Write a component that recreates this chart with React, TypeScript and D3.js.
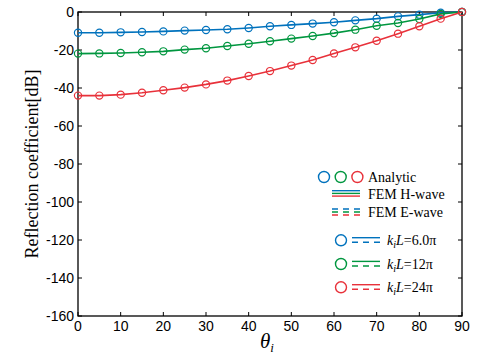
import * as d3 from "d3";
import { useRef, useEffect } from "react";

const angles = [0, 5, 10, 15, 20, 25, 30, 35, 40, 45, 50, 55, 60, 65, 70, 75, 80, 85, 90];
const blueValues = [-10.9, -10.9, -10.7, -10.5, -10.2, -9.8, -9.5, -9.1, -8.4, -7.5, -6.8, -6.1, -5.4, -4.4, -3.5, -2.3, -1.4, -0.4, 0];
const greenValues = [-21.9, -21.8, -21.6, -21.2, -20.7, -19.8, -19.1, -17.9, -16.7, -15.4, -14.0, -12.6, -11.1, -9.3, -7.2, -5.8, -3.7, -1.0, 0];
const redValues = [-44.0, -44.0, -43.5, -42.5, -41.2, -39.8, -38.1, -36.1, -33.7, -31.1, -28.2, -25.3, -21.8, -18.6, -15.1, -11.4, -7.5, -3.5, 0];
const xTicks = [0, 10, 20, 30, 40, 50, 60, 70, 80, 90];
const yTicks = [0, -20, -40, -60, -80, -100, -120, -140, -160];
const seriesColors = ["#0072BD", "#00963F", "#E8313A"];
const seriesLabels = ["6.0π", "12π", "24π"];

export default function App() {
  const svgRef = useRef<SVGSVGElement>(null);
  const width = 477, height = 356;
  const marginLeft = 78, marginRight = 15, marginTop = 12, marginBottom = 40;

  useEffect(() => {
    const svg = d3.select(svgRef.current);
    svg.selectAll("*").remove();

    const x = d3.scaleLinear().domain([0, 90]).range([marginLeft, width - marginRight]);
    const y = d3.scaleLinear().domain([-160, 0]).range([height - marginBottom, marginTop]);
    const sans = "Arial, 'Liberation Sans', Helvetica, sans-serif";
    const serif = "'Times New Roman', 'Liberation Serif', serif";

    // tick marks inside on all four sides
    const ticks = svg.append("g").attr("stroke", "#000").attr("stroke-width", 1);
    xTicks.forEach((t) => {
      ticks.append("line").attr("x1", x(t)).attr("x2", x(t)).attr("y1", y(-160)).attr("y2", y(-160) - 4);
      ticks.append("line").attr("x1", x(t)).attr("x2", x(t)).attr("y1", y(0)).attr("y2", y(0) + 4);
    });
    yTicks.forEach((t) => {
      ticks.append("line").attr("x1", x(0)).attr("x2", x(0) + 4).attr("y1", y(t)).attr("y2", y(t));
      ticks.append("line").attr("x1", x(90)).attr("x2", x(90) - 4).attr("y1", y(t)).attr("y2", y(t));
    });

    svg.append("rect")
      .attr("x", x(0)).attr("y", y(0))
      .attr("width", x(90) - x(0)).attr("height", y(-160) - y(0))
      .attr("fill", "none").attr("stroke", "#000").attr("stroke-width", 1.3);

    svg.append("g")
      .selectAll("text").data(xTicks).join("text")
      .attr("x", (d) => x(d)).attr("y", y(-160) + 15)
      .attr("text-anchor", "middle")
      .attr("font-family", sans).attr("font-size", 14)
      .text((d) => d);

    svg.append("g")
      .selectAll("text").data(yTicks).join("text")
      .attr("x", x(0) - 4).attr("y", (d) => y(d) + 5)
      .attr("text-anchor", "end")
      .attr("font-family", sans).attr("font-size", 14)
      .text((d) => d);

    // axis labels
    svg.append("text")
      .attr("transform", `translate(38,${(y(0) + y(-160)) / 2}) rotate(-90)`)
      .attr("text-anchor", "middle")
      .attr("font-family", serif).attr("font-size", 18)
      .text("Reflection coefficient[dB]");

    const xl = svg.append("text")
      .attr("x", (x(0) + x(90)) / 2 - 3).attr("y", 348)
      .attr("text-anchor", "middle")
      .attr("font-family", serif).attr("font-size", 21).attr("font-style", "italic");
    xl.append("tspan").text("θ");
    xl.append("tspan").attr("font-size", 13).attr("dy", 4).text("i");

    // series
    const allValues = [blueValues, greenValues, redValues];
    const line = d3.line<number>().x((_, i) => x(angles[i])).y((d) => y(d));
    allValues.forEach((vals, k) => {
      const g = svg.append("g");
      g.append("path").attr("d", line(vals)).attr("fill", "none")
        .attr("stroke", seriesColors[k]).attr("stroke-width", 1.6);
      g.selectAll("circle").data(vals).join("circle")
        .attr("cx", (_, i) => x(angles[i])).attr("cy", (d) => y(d))
        .attr("r", 3.6).attr("fill", "none")
        .attr("stroke", seriesColors[k]).attr("stroke-width", 1.2);
    });

    // legend
    const leg = svg.append("g");
    seriesColors.forEach((c, k) => {
      leg.append("circle").attr("cx", 324 + k * 16.7).attr("cy", 177).attr("r", 5.5)
        .attr("fill", "none").attr("stroke", c).attr("stroke-width", 1.4);
      leg.append("line").attr("x1", 332).attr("x2", 360)
        .attr("y1", 190.7 + k * 2.7).attr("y2", 190.7 + k * 2.7)
        .attr("stroke", c).attr("stroke-width", 1.4);
      leg.append("line").attr("x1", 332).attr("x2", 360)
        .attr("y1", 209 + k * 3).attr("y2", 209 + k * 3)
        .attr("stroke", c).attr("stroke-width", 1.4).attr("stroke-dasharray", "6,5");
    });
    const legText = [["Analytic", 181.5], ["FEM H-wave", 198.5], ["FEM E-wave", 217]];
    legText.forEach(([t, yy]) => {
      leg.append("text").attr("x", 368).attr("y", yy as number)
        .attr("font-family", serif).attr("font-size", 14).text(t as string);
    });

    const rowY = [240.3, 264, 287.3];
    seriesColors.forEach((c, k) => {
      const cy = rowY[k];
      leg.append("circle").attr("cx", 341).attr("cy", cy).attr("r", 5.5)
        .attr("fill", "none").attr("stroke", c).attr("stroke-width", 1.4);
      leg.append("line").attr("x1", 352).attr("x2", 380).attr("y1", cy - 2.6).attr("y2", cy - 2.6)
        .attr("stroke", c).attr("stroke-width", 1.4);
      leg.append("line").attr("x1", 352).attr("x2", 380).attr("y1", cy + 2).attr("y2", cy + 2)
        .attr("stroke", c).attr("stroke-width", 1.4).attr("stroke-dasharray", "6,5");
      const t = leg.append("text").attr("x", 387).attr("y", cy + 5)
        .attr("font-family", serif).attr("font-size", 14);
      t.append("tspan").attr("font-style", "italic").text("k");
      t.append("tspan").attr("font-style", "italic").attr("font-size", 10).attr("dy", 3).text("i");
      t.append("tspan").attr("font-style", "italic").attr("dy", -3).text("L");
      t.append("tspan").text("=" + seriesLabels[k]);
    });
  }, []);

  return (
    <svg ref={svgRef} width={width} height={height}
      style={{ position: "absolute", left: 0, top: 0, background: "#fff" }} />
  );
}
